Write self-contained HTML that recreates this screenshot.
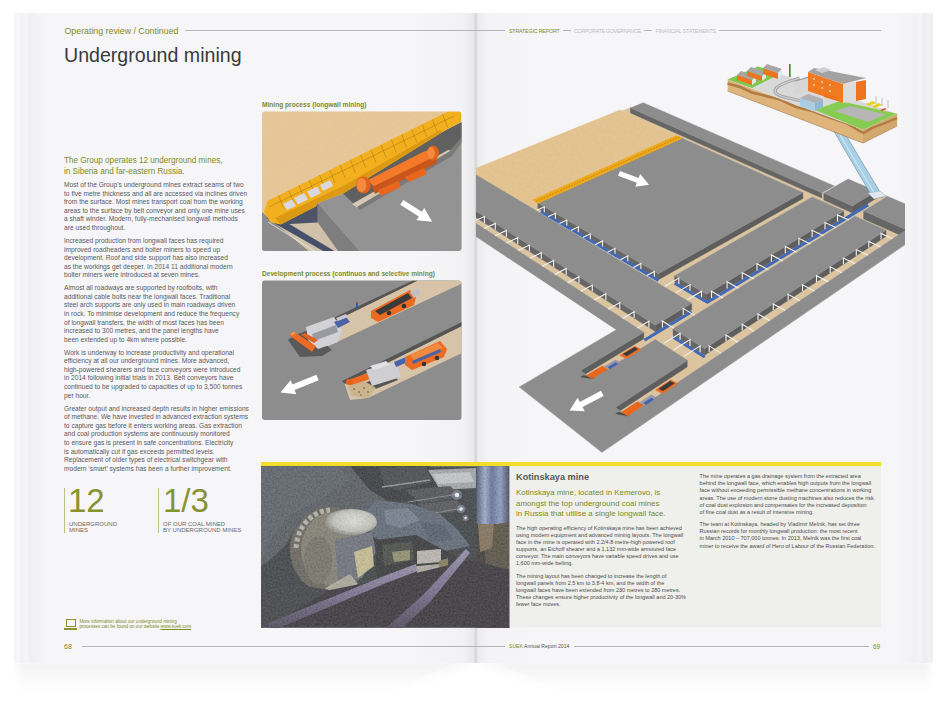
<!DOCTYPE html>
<html><head><meta charset="utf-8">
<style>
*{margin:0;padding:0;box-sizing:border-box}
html,body{width:950px;height:704px;overflow:hidden;background:#fff;font-family:"Liberation Sans",sans-serif}
.abs{position:absolute}
#stage{position:relative;width:950px;height:704px;background:#fff}
.pg{position:absolute;top:13px;height:650px;background:#f6f6f8}
#shadow{position:absolute;left:14px;top:663px;width:920px;height:30px;background:linear-gradient(180deg,rgba(0,0,0,0.045),rgba(0,0,0,0.015) 45%,rgba(0,0,0,0) 100%);-webkit-mask-image:linear-gradient(90deg,rgba(0,0,0,.6) 0,#000 10%,#000 85%,rgba(0,0,0,0.2) 100%)}
#shadowV{position:absolute;left:376px;top:663px;width:200px;height:34px;background:radial-gradient(ellipse 100px 32px at 50% 0,#fff 0,rgba(255,255,255,0.9) 40%,rgba(255,255,255,0) 100%)}
#stackL{left:14px;width:20px;top:13px;height:650px;background:linear-gradient(90deg,#f3f3f5 0,#f7f7f9 4px,#f1f1f3 8px,#f6f6f8 12px,#efeff1 17px,#f4f4f6 20px)}
#pageL{left:33px;width:443px;background:linear-gradient(90deg,#f1f1f3 0,#f6f6f8 12px,#f6f6f8 380px,#f2f2f4 430px,#e8e8ea 441px,#d0d0d2 443px)}
#pageR{left:476px;width:440px;background:linear-gradient(90deg,#d4d4d6 0,#ececee 2px,#f3f3f5 12px,#f6f6f8 60px,#f6f6f8 420px,#f2f2f4 100%)}
#stackR{left:915px;width:18px;top:13px;height:650px;background:linear-gradient(90deg,#efeff1 0,#f5f5f7 5px,#ededef 10px,#f3f3f5 14px,#efeff1 18px)}
.t{position:absolute;white-space:nowrap;line-height:1}
.olive{color:#7d8b24}
.body{position:absolute;white-space:nowrap;font-size:6.65px;line-height:8.6px;color:#5a5a5c}
.body p{margin-bottom:4.3px}
.k{font-size:5.5px;line-height:7.16px;color:#4c4c4e}.k p{margin-bottom:5.04px}
.k2{font-size:5.5px;line-height:7.32px;color:#4c4c4e}.k2 p{margin-bottom:4.0px}
.hline{position:absolute;height:1px;background:#b5b5b7}
</style></head><body><div id="stage">
<svg class="abs" style="left:0;top:0" width="950" height="704"><defs><linearGradient id="shg" x1="0" y1="0" x2="0" y2="1"><stop offset="0" stop-color="#000" stop-opacity="0.06"/><stop offset="0.4" stop-color="#000" stop-opacity="0.025"/><stop offset="1" stop-color="#000" stop-opacity="0"/></linearGradient><filter id="shb" x="-20%" y="-50%" width="140%" height="200%"><feGaussianBlur stdDeviation="3"/></filter></defs>
<g filter="url(#shb)"><rect x="18" y="662" width="912" height="32" fill="url(#shg)"/><polygon points="476,662 560,700 392,700" fill="#fff"/></g></svg>
<div id="stackL" class="abs"></div>
<div id="stackR" class="abs"></div>
<div id="pageL" class="pg"></div>
<div id="pageR" class="pg"></div>

<!-- left header -->
<div class="t olive" style="left:64.5px;top:26.5px;font-size:8.8px">Operating review / Continued</div>
<div class="hline" style="left:185px;top:30px;width:291px"></div>
<div class="t" style="left:64px;top:46.4px;font-size:19.6px;color:#3a3a3c">Underground mining</div>

<div class="t olive" style="left:64px;top:156.3px;font-size:8.15px;line-height:10.8px">The Group operates 12 underground mines,<br>in Siberia and far-eastern Russia.</div>

<div class="body" style="left:64px;top:181.1px">
<p>Most of the Group’s underground mines extract seams of two<br>to five metre thickness and all are accessed via inclines driven<br>from the surface. Most mines transport coal from the working<br>areas to the surface by belt conveyor and only one mine uses<br>a shaft winder. Modern, fully-mechanised longwall methods<br>are used throughout.</p>
<p>Increased production from longwall faces has required<br>improved roadheaders and bolter miners to speed up<br>development. Roof and side support has also increased<br>as the workings get deeper. In 2014 11 additional modern<br>bolter miners were introduced at seven mines.</p>
<p>Almost all roadways are supported by roofbolts, with<br>additional cable bolts near the longwall faces. Traditional<br>steel arch supports are only used in main roadways driven<br>in rock. To minimise development and reduce the frequency<br>of longwall transfers, the width of most faces has been<br>increased to 300 metres, and the panel lengths have<br>been extended up to 4km where possible.</p>
<p>Work is underway to increase productivity and operational<br>efficiency at all our underground mines. More advanced,<br>high-powered shearers and face conveyors were introduced<br>in 2014 following initial trials in 2013. Belt conveyors have<br>continued to be upgraded to capacities of up to 3,500 tonnes<br>per hour.</p>
<p>Greater output and increased depth results in higher emissions<br>of methane. We have invested in advanced extraction systems<br>to capture gas before it enters working areas. Gas extraction<br>and coal production systems are continuously monitored<br>to ensure gas is present in safe concentrations. Electricity<br>is automatically cut if gas exceeds permitted levels.<br>Replacement of older types of electrical switchgear with<br>modern ‘smart’ systems has been a further improvement.</p>
</div>

<!-- stats -->
<div class="abs" style="left:64px;top:488px;width:1px;height:45px;background:#b9bf86"></div>
<div class="t" style="left:68px;top:484.4px;font-size:33px;color:#879330">12</div>
<div class="t" style="left:69px;top:521px;font-size:6px;line-height:6.3px;color:#6a6a6c">UNDERGROUND<br>MINES</div>
<div class="abs" style="left:158px;top:488px;width:1px;height:45px;background:#b9bf86"></div>
<div class="t" style="left:163px;top:484.4px;font-size:33px;color:#879330">1/3</div>
<div class="t" style="left:163px;top:521px;font-size:6px;line-height:6.3px;color:#6a6a6c">OF OUR COAL MINED<br>BY UNDERGROUND MINES</div>

<!-- footer left -->
<div class="abs" style="left:66px;top:619px;width:10px;height:8px;border:1.2px solid #8a9530"></div>
<div class="abs" style="left:64px;top:628px;width:13px;height:1.5px;background:#8a9530"></div>
<div class="t olive" style="left:79.4px;top:618.5px;font-size:4.6px;line-height:5.4px">More information about our underground mining<br>processes can be found on our website <span style="text-decoration:underline;text-decoration-thickness:0.4px;text-underline-offset:0.6px">www.suek.com</span></div>
<div class="t olive" style="left:64px;top:643px;font-size:7px">68</div>
<div class="hline" style="left:82px;top:646px;width:394px"></div>

<!-- right header -->
<div class="hline" style="left:476px;top:30px;width:29px"></div>
<div class="t olive" style="left:509px;top:28.8px;font-size:5.3px;letter-spacing:-0.17px">STRATEGIC REPORT</div>
<div class="hline" style="left:562.5px;top:30px;width:8px"></div>
<div class="t" style="left:574px;top:28.8px;font-size:5.3px;letter-spacing:-0.28px;color:#bdbdbf">CORPORATE GOVERNANCE</div>
<div class="hline" style="left:644px;top:30px;width:8px"></div>
<div class="t" style="left:655.5px;top:28.8px;font-size:5.3px;letter-spacing:-0.17px;color:#bdbdbf">FINANCIAL STATEMENTS</div>
<div class="hline" style="left:719px;top:30px;width:162px"></div>

<!-- footer right -->
<div class="hline" style="left:476px;top:646px;width:29px"></div>
<div class="t" style="left:509px;top:644px;font-size:5.1px;color:#555"><span class="olive">SUEK</span> Annual Report 2014</div>
<div class="hline" style="left:574px;top:646px;width:295px"></div>
<div class="t olive" style="left:873px;top:643.5px;font-size:6.5px">69</div>

<!--PART:boxes-->
<svg class="abs" style="left:0;top:0" width="950" height="704" viewBox="0 0 950 704">
<defs>
<clipPath id="b1"><rect x="262" y="111.5" width="199.5" height="139.5" rx="3"/></clipPath>
<clipPath id="b2"><rect x="262" y="280.5" width="199.5" height="139.5" rx="3"/></clipPath>
</defs>
<!-- captions -->
<text x="262" y="106.6" font-family="Liberation Sans" font-weight="bold" font-size="6.6" fill="#7d8b2a">Mining process (longwall mining)</text>
<text x="262" y="276" font-family="Liberation Sans" font-weight="bold" font-size="6.6" fill="#7d8b2a">Development process (continuos and selective mining)</text>
<!-- BOX 1 -->
<g clip-path="url(#b1)">
<rect x="262" y="111" width="200" height="141" fill="#e6c597"/>
<defs><filter id="b1speck" x="0" y="0" width="1" height="1"><feTurbulence type="fractalNoise" baseFrequency="0.3" numOctaves="2" seed="7"/><feColorMatrix values="0 0 0 0 0.8  0 0 0 0 0.6  0 0 0 0 0.4  8 0 0 0 -4.3"/></filter></defs><rect x="262" y="111" width="200" height="141" filter="url(#b1speck)" opacity="0.45"/>
<!-- lower-left gray block -->
<polygon points="262,212 310,252 262,252" fill="#8c8c8c"/>
<!-- tunnel floor -->
<polygon points="264,214 281,224.6 317.8,222.5 338.8,252 310,252" fill="#d0c2aa"/>
<polygon points="272,222 286,222 336,252 325,252" fill="#46506a"/>
<line x1="268" y1="222" x2="316" y2="252" stroke="#e8e8e8" stroke-width="0.8"/>
<polygon points="266,218 315.6,206.5 317.8,203 317.8,222.5 281,224.6" fill="#4e5468"/>
<!-- gray block top face -->
<polygon points="317.8,203 343,193.5 440,133 462,122 462,252 360.6,252" fill="#939393"/>
<!-- block left front face -->
<polygon points="317.8,203 360.6,252 338.8,252 317.8,222.5" fill="#7e7e7e"/>
<!-- trench -->
<polygon points="343,193.5 440,133 462,122 462,137 450,151 357,207" fill="#606060"/>
<polygon points="352,204 448,150 455,151 358,208" fill="#d6c8b2"/>
<polygon points="357,207 450,151 462,137 462,142 452,156 360,210" fill="#7a7a7a"/>
<!-- yellow band -->
<polygon points="264,212 267.8,200.7 448,111.6 461,111.6 461,121.4 442.6,132.1 343,193.5 317.8,203 315.6,206.5 280.8,224.6 270.7,222.5" fill="#f2b01e"/>
<polygon points="275,218 343,186 440,130 442.6,132.1 343,193.5 317.8,203 315.6,206.5 280.8,224.6" fill="#dc9a14"/>
<g stroke="#a87a12" stroke-width="0.55">
<line x1="269" y1="207" x2="454" y2="116"/>
<line x1="278.6" y1="195.4" x2="283.6" y2="208.4"/><line x1="288.9" y1="190.3" x2="293.9" y2="203.3"/><line x1="299.1" y1="185.2" x2="304.1" y2="198.2"/><line x1="309.4" y1="180.2" x2="314.4" y2="193.2"/><line x1="319.6" y1="175.1" x2="324.6" y2="188.1"/><line x1="329.9" y1="170.0" x2="334.9" y2="183.0"/><line x1="340.1" y1="164.9" x2="345.1" y2="177.9"/><line x1="350.4" y1="159.9" x2="355.4" y2="172.9"/><line x1="360.6" y1="154.8" x2="365.6" y2="167.8"/><line x1="370.9" y1="149.7" x2="375.9" y2="162.7"/><line x1="381.1" y1="144.7" x2="386.1" y2="157.7"/><line x1="391.3" y1="139.6" x2="396.3" y2="152.6"/><line x1="401.6" y1="134.5" x2="406.6" y2="147.5"/><line x1="411.8" y1="129.5" x2="416.8" y2="142.5"/><line x1="422.1" y1="124.4" x2="427.1" y2="137.4"/><line x1="432.3" y1="119.3" x2="437.3" y2="132.3"/><line x1="442.6" y1="114.3" x2="447.6" y2="127.3"/>
</g>
<polygon points="283,204 292,199.5 296,206 287,210" fill="#d8d8e0"/><polygon points="294,198 304,193 308,199.5 298,204.5" fill="#d8d8e0"/><polygon points="307,191.5 317,186.5 321,193 311,198" fill="#d8d8e0"/><polygon points="320,185 330,180 333,186 323,191" fill="#d8d8e0"/>
<!-- shearer -->
<polygon points="368,180 421,153 433,148 438,156 376,189" fill="#f47a2a"/>
<polygon points="372,187 436,156 437,163 375,194" fill="#c8561a"/>
<polygon points="378,190 398,181 401,187 381,196" fill="#e8661e"/><polygon points="405,177 424,168 427,174 409,182" fill="#e8661e"/>
<ellipse cx="363.5" cy="185" rx="7.5" ry="8.5" fill="#e0621c"/><ellipse cx="361.5" cy="185" rx="4.8" ry="7" fill="#f38a40"/>
<ellipse cx="433" cy="153" rx="6" ry="7.5" fill="#e0621c"/><ellipse cx="431" cy="153" rx="3.8" ry="6" fill="#f38a40"/>
<!-- arrow -->
<polygon points="403.4,199.9 421.9,211.7 424.2,208.1 432.2,221.7 416.5,220.2 418.8,216.6 400.3,204.7" fill="#ffffff"/>
</g>
<!-- BOX 2 -->
<g clip-path="url(#b2)">
<rect x="262" y="280" width="200" height="141" fill="#8d8d8d"/>
<!-- tunnel 1 -->
<polygon points="291,340 412.5,280.5 462,280.5 462,283.5 320,350 308,354" fill="#d6c3a8"/>
<polygon points="289,339 412.5,280.5 418,280.5 292,342" fill="#555"/>
<!-- tunnel 2 -->
<polygon points="344,382 462,323 462,353 368,398 350,400" fill="#d6c3a8"/>
<polygon points="342,381 462,322 462,326 345,384" fill="#555"/>
<!-- machine 1 (left) -->
<polygon points="288,340 300,333 324,343 332,350 322,356 300,357" fill="#5a5a5a"/>
<polygon points="306,327 334,317 342,330 338,342 318,349 308,340" fill="#d2d2d6"/>
<polygon points="312,334 336,325 338,332 314,341" fill="#9a9aa2"/>
<polygon points="334,322 346,317 350,322 338,328" fill="#4a62a8"/><polygon points="336,318 346,314 348,317 338,321" fill="#c8c8d0"/>
<polygon points="289,335 294,332 316,346 312,352" fill="#ec6a22"/>
<polygon points="301,335 305,333 318,340 314,343" fill="#e06020"/>
<polygon points="290,334 294,331.5 296,333 292,336" fill="#f59050"/>
<rect x="356" y="303" width="1.8" height="6" fill="#2a5aa8"/><circle cx="357" cy="302.5" r="1" fill="#c05030"/>
<!-- truck 1 -->
<polygon points="371,311 410,290 416,297 414,305 378,322 371,318" fill="#ec6a22"/>
<polygon points="375,311 408,293 412,298 380,315" fill="#3a3a3a"/>
<polygon points="410,292 418,288 421,294 414,298" fill="#c0c0c4"/>
<circle cx="389" cy="313" r="2.3" fill="#333"/><circle cx="404" cy="306" r="2.3" fill="#333"/>
<!-- machine 2 -->
<polygon points="362,384 392,372 398,380 368,392" fill="#555"/>
<polygon points="348,380 388,366 390,372 350,386" fill="#ec6a22"/>
<ellipse cx="349" cy="382" rx="3.2" ry="3" fill="#e8601e"/>
<polygon points="366,370 396,361 401,377 372,386" fill="#cfcfd3"/>
<polygon points="370,366 386,361 390,365 374,370" fill="#e0e0e4"/>
<polygon points="394,362 406,357 408,362 396,367" fill="#4a62a8"/>
<polygon points="348,386 364,381 376,388 368,398 352,396" fill="#c9b48e"/>
<g fill="#5a5040"><circle cx="354" cy="389" r="0.8"/><circle cx="359" cy="392" r="0.8"/><circle cx="364" cy="388" r="0.8"/><circle cx="361" cy="395" r="0.7"/><circle cx="368" cy="392" r="0.8"/></g>
<!-- truck 2 -->
<polygon points="405,357 440,341 447,349 444,357 412,370 405,365" fill="#ec6a22"/>
<polygon points="410,355 438,343 443,348 414,360" fill="#f08a40"/>
<polygon points="412,361 440,349 441,352 413,364" fill="#4a62a8"/>
<circle cx="424" cy="364" r="2.2" fill="#333"/><circle cx="437" cy="358" r="2.2" fill="#333"/>
<!-- arrow -->
<polygon points="318.7,380.3 294.6,390.1 296.3,394.3 280.5,392.5 290.6,380.2 292.3,384.4 316.4,374.7" fill="#ffffff"/>
</g>
<!-- PHOTO -->
<rect x="261" y="462" width="620" height="4.3" fill="#f0de2a"/>
<defs>
<clipPath id="ph"><rect x="261" y="466.3" width="248.5" height="161.2"/></clipPath>
<radialGradient id="drumtop" cx="0.55" cy="0.45" r="0.55"><stop offset="0" stop-color="#e2e2dc"/><stop offset="0.7" stop-color="#c4c4bc"/><stop offset="1" stop-color="#8a8a84"/></radialGradient>
<linearGradient id="coalg" x1="0" y1="0" x2="0.3" y2="1"><stop offset="0" stop-color="#4a5158"/><stop offset="0.55" stop-color="#41474e"/><stop offset="1" stop-color="#2a2c30"/></linearGradient>
<linearGradient id="rstrip" x1="0" y1="0" x2="1" y2="0"><stop offset="0" stop-color="#46506e"/><stop offset="0.25" stop-color="#98a8cc"/><stop offset="0.45" stop-color="#5a6890"/><stop offset="0.7" stop-color="#8898c0"/><stop offset="1" stop-color="#2e3448"/></linearGradient>
<linearGradient id="railg" x1="0" y1="0" x2="0" y2="1"><stop offset="0" stop-color="#9088a8"/><stop offset="0.5" stop-color="#6c6484"/><stop offset="1" stop-color="#3e3848"/></linearGradient>
<filter id="noise" x="0" y="0" width="1" height="1" filterUnits="objectBoundingBox"><feTurbulence type="fractalNoise" baseFrequency="0.55" numOctaves="2" seed="5" result="t"/><feColorMatrix in="t" type="matrix" values="1 0 0 0 0  1 0 0 0 0  1 0 0 0 0  0 0 0 0 1"/></filter>
</defs>
<g clip-path="url(#ph)">
<rect x="261" y="466" width="249" height="162" fill="#33363a"/>
<!-- coal face upper-left -->
<polygon points="261,466 355,466 370,490 386,500 380,520 330,510 300,520 286,545 270,560 261,566" fill="#4d5359"/>
<polygon points="261,466 340,466 350,480 320,500 290,515 270,540 261,560" fill="#535960"/>
<!-- dark upper middle -->
<polygon points="350,466 430,466 440,490 410,500 386,500 368,488" fill="#2c2e32"/>
<!-- roof canopy -->
<polygon points="380,468 426,466 432,482 398,490 384,486" fill="#3c3e42"/>
<polyline points="382,487 430,480" stroke="#8c8e92" stroke-width="1.4" fill="none"/>
<polygon points="428,470 476,468 476,488 440,490" fill="#9ea2a6"/>
<polygon points="432,474 470,472 474,482 438,484" fill="#c4c6ca"/>
<polygon points="405,490 450,486 462,497 420,503" fill="#45474b"/><polyline points="408,502 458,494" stroke="#7e8084" stroke-width="1" fill="none"/>
<polygon points="418,504 456,500 468,510 430,515" fill="#4a4c50"/><polyline points="422,515 464,508" stroke="#7e8084" stroke-width="1" fill="none"/>
<circle cx="457" cy="495" r="5" fill="#9aa6b8" opacity="0.5"/><circle cx="457" cy="495" r="2.2" fill="#f4f8ff"/>
<circle cx="461" cy="509" r="4" fill="#9aa6b8" opacity="0.5"/><circle cx="461" cy="509" r="1.8" fill="#f0f4ff"/>
<circle cx="465.5" cy="518" r="3" fill="#9aa6b8" opacity="0.5"/><circle cx="465.5" cy="518" r="1.3" fill="#e8eef8"/>
<!-- blue coal lumps -->
<polygon points="376,500 412,504 440,514 458,530 470,546 440,552 400,550 372,536 364,515" fill="#566070"/>
<polygon points="384,510 408,508 420,520 400,528 386,524" fill="#6e7888"/>
<polygon points="420,522 445,525 452,540 430,542" fill="#4a5464"/>
<!-- right metallic strip -->
<rect x="476.5" y="466" width="34" height="58" fill="url(#rstrip)"/>
<rect x="476.5" y="524" width="34" height="104" fill="#34302c"/>
<polygon points="484,526 510,522 510,628 488,628" fill="#4e4638"/>
<polygon points="478,524 494,524 492,548 480,552" fill="#7a6a50"/>
<!-- drum -->
<ellipse cx="330" cy="550" rx="40" ry="43" fill="#5e5c52"/>
<ellipse cx="334" cy="549" rx="33" ry="37" fill="#7c786a"/>
<path d="M296,548 A36,40 0 0 1 330,510" fill="none" stroke="#b0b0aa" stroke-width="5" stroke-dasharray="4 2.5"/>
<ellipse cx="351" cy="522" rx="26" ry="13" fill="url(#drumtop)"/>
<ellipse cx="318" cy="560" rx="14" ry="24" fill="#6e6c60"/>
<polygon points="335,540 372,532 376,552 362,578 338,582" fill="#666a74"/>
<polygon points="354,552 372,546 374,566 358,578" fill="#c4bc8c"/>
<polygon points="325,588 350,574 358,584 334,598" fill="#a8a498"/>
<!-- machine center -->
<polygon points="375,540 416,535 440,548 456,556 452,600 400,612 378,594" fill="#2a2b2e"/>
<polygon points="382,545 412,541 414,560 384,566" fill="#3e403c"/>
<polygon points="392,552 410,550 410,560 394,562" fill="#8a8868"/>
<polygon points="417,551 441,549 441,562 417,564" fill="#b8b4ac"/>
<polygon points="417,566 440,564 440,574.5 417,576" fill="#aca89e"/>
<polygon points="439,561 448,558 450,612 441,616" fill="#7e7650"/>
<polygon points="449,565 456,562 457,606 450,610" fill="#5e5840"/>
<!-- lower dark -->
<polygon points="261,606 330,590 380,580 420,572 470,560 510,570 510,628 261,628" fill="#2c2830"/>
<polygon points="261,590 300,585 330,590 268,626 261,628" fill="#34373b"/>
<!-- rails -->
<polygon points="266,624 384,576 416,564 418,571 386,583 272,631" fill="url(#railg)"/>
<polygon points="386,628 424,594 466,549 470,553 430,602 396,634" fill="url(#railg)"/>
<rect x="261" y="466" width="249" height="162" filter="url(#noise)" opacity="0.22"/>
</g>
<!-- Kotinskaya box -->
<rect x="509.5" y="466.3" width="371.5" height="161.2" fill="#efefeb"/>
</svg>

<!--/PART:boxes-->
<!--PART:map-->
<svg class="abs" style="left:0;top:0" width="950" height="704" viewBox="0 0 950 704"><defs><clipPath id="mapclip"><path d="M476 40H905V470H476Z"/></clipPath></defs><g clip-path="url(#mapclip)">
<polygon points="630.8,107.3 929.0,239.9 920.5,245.8 622.0,110.9" fill="#dbc49f" stroke="#dbc49f" stroke-width="0.4" />
<polygon points="802.9,192.6 812.3,196.9 659.7,284.2 650.1,278.5" fill="#dbc49f" stroke="#dbc49f" stroke-width="0.4" />
<polygon points="544.3,200.1 718.1,300.9 703.2,310.1 529.6,206.7" fill="#dbc49f" stroke="#dbc49f" stroke-width="0.4" />
<polygon points="876.3,191.4 887.5,196.1 592.2,378.8 580.7,370.5" fill="#dbc49f" stroke="#dbc49f" stroke-width="0.4" />
<polygon points="422.3,171.1 716.8,356.4 699.2,368.2 405.7,177.6" fill="#dbc49f" stroke="#dbc49f" stroke-width="0.4" />
<polygon points="894.5,224.6 906.1,229.7 627.5,416.1 615.6,407.3" fill="#dbc49f" stroke="#dbc49f" stroke-width="0.4" />
<polygon points="630.4,107.9 821.8,193.1 821.8,198.1 630.4,112.9" fill="#666666" stroke="#666666" stroke-width="0.4" />
<polygon points="643.2,102.7 834.4,185.9 821.8,193.1 630.4,107.9" fill="#8d8d8d" stroke="#8d8d8d" stroke-width="0.4" />
<polygon points="823.8,193.1 852.4,205.9 852.4,212.9 823.8,200.1" fill="#666666" stroke="#666666" stroke-width="0.4" />
<polygon points="876.6,191.2 852.4,205.9 852.4,212.9 876.6,198.2" fill="#5e5e5e" stroke="#5e5e5e" stroke-width="0.4" />
<polygon points="848.1,179.1 876.6,191.2 852.4,205.9 823.8,193.1" fill="#8d8d8d" stroke="#8d8d8d" stroke-width="0.4" />
<polygon points="863.7,210.9 945.2,247.1 945.2,255.1 863.7,218.9" fill="#666666" stroke="#666666" stroke-width="0.4" />
<polygon points="887.3,196.3 968.1,230.7 945.2,247.1 863.7,210.9" fill="#8d8d8d" stroke="#8d8d8d" stroke-width="0.4" />
<polygon points="620.0,110.0 681.8,137.9 529.6,206.7 469.5,170.9" fill="#e2c38f" stroke="#e2c38f" stroke-width="0.4" />
<defs><filter id="sandspeck" x="0" y="0" width="1" height="1"><feTurbulence type="fractalNoise" baseFrequency="0.35" numOctaves="2" seed="11"/><feColorMatrix values="0 0 0 0 0.78  0 0 0 0 0.58  0 0 0 0 0.36  8 0 0 0 -4.3"/></filter><clipPath id="sandclip"><polygon points="620.0,110.0 681.8,137.9 529.6,206.7 469.5,170.9"/></clipPath></defs>
<rect x="470" y="100" width="220" height="110" filter="url(#sandspeck)" clip-path="url(#sandclip)" opacity="0.5"/>
<polygon points="802.9,192.6 658.4,273.8 658.4,279.8 802.9,198.6" fill="#5e5e5e" stroke="#5e5e5e" stroke-width="0.4" />
<polygon points="537.8,203.0 658.4,273.8 658.4,279.2 537.8,208.4" fill="#666666" stroke="#666666" stroke-width="0.4" />
<polygon points="681.8,137.9 802.9,192.6 658.4,273.8 537.8,203.0" fill="#8d8d8d" stroke="#8d8d8d" stroke-width="0.4" />
<polygon points="843.8,211.1 706.6,294.2 706.6,300.9 843.8,217.8" fill="#5e5e5e" stroke="#5e5e5e" stroke-width="0.4" />
<polygon points="674.6,275.7 706.6,294.2 706.6,300.2 674.6,281.7" fill="#666666" stroke="#666666" stroke-width="0.4" />
<polygon points="812.3,196.9 843.8,211.1 706.6,294.2 674.6,275.7" fill="#8d8d8d" stroke="#8d8d8d" stroke-width="0.4" />
<polygon points="691.7,303.3 655.4,325.2 655.4,331.7 691.7,309.8" fill="#5e5e5e" stroke="#5e5e5e" stroke-width="0.4" />
<polygon points="416.6,173.4 655.4,325.2 655.4,331.6 416.6,179.8" fill="#666666" stroke="#666666" stroke-width="0.4" />
<polygon points="451.0,159.9 691.7,303.3 655.4,325.2 416.6,173.4" fill="#8d8d8d" stroke="#8d8d8d" stroke-width="0.4" />
<polygon points="886.0,230.2 704.8,348.8 704.8,355.0 886.0,236.4" fill="#5e5e5e" stroke="#5e5e5e" stroke-width="0.4" />
<polygon points="673.0,328.8 704.8,348.8 704.8,355.2 673.0,335.2" fill="#666666" stroke="#666666" stroke-width="0.4" />
<polygon points="855.1,216.2 886.0,230.2 704.8,348.8 673.0,328.8" fill="#8d8d8d" stroke="#8d8d8d" stroke-width="0.4" />
<polygon points="643.8,332.3 580.7,370.5 580.7,377.0 643.8,338.8" fill="#5e5e5e" stroke="#5e5e5e" stroke-width="0.4" />
<polygon points="687.2,360.4 615.6,407.3 615.6,413.8 687.2,366.9" fill="#5e5e5e" stroke="#5e5e5e" stroke-width="0.4" />
<polygon points="405.7,177.6 643.8,332.3 580.7,370.5 592.2,378.8 655.3,339.7 687.2,360.4 615.6,407.3 627.5,416.1 906.1,229.7 918.6,235.3 601.9,452.3 519.3,386.9 616.3,329.7 394.1,182.2" fill="#8d8d8d" stroke="#8d8d8d" stroke-width="0.4" />
<polygon points="655.3,339.7 687.2,360.4 623.8,401.9 592.2,378.8" fill="#8d8d8d" stroke="#8d8d8d" stroke-width="0.4" />
<polyline points="918.6,235.3 601.9,452.3 519.3,386.9" fill="none" stroke="#a0a0a0" stroke-width="0.7" />
<polyline points="541.0,211.5 658.4,280.4" fill="none" stroke="#4169b8" stroke-width="3.0" stroke-linecap="butt"/>
<polyline points="674.6,283.3 707.3,302.2" fill="none" stroke="#4169b8" stroke-width="3.0" stroke-linecap="butt"/>
<polyline points="868.1,204.9 706.6,302.7" fill="none" stroke="#4169b8" stroke-width="3.0" stroke-linecap="butt"/>
<polyline points="691.7,311.6 644.4,340.2" fill="none" stroke="#4169b8" stroke-width="3.0" stroke-linecap="butt"/>
<polyline points="673.0,337.0 704.8,357.0" fill="none" stroke="#4169b8" stroke-width="3.0" stroke-linecap="butt"/>
<polyline points="544.3,212.2 544.3,206.8 536.9,210.2" fill="none" stroke="#f2f2f2" stroke-width="1.1" />
<polyline points="555.4,218.7 555.4,213.3 548.0,216.8" fill="none" stroke="#f2f2f2" stroke-width="1.1" />
<polyline points="566.8,225.4 566.8,220.0 559.4,223.5" fill="none" stroke="#f2f2f2" stroke-width="1.1" />
<polyline points="578.4,232.2 578.4,226.8 571.0,230.5" fill="none" stroke="#f2f2f2" stroke-width="1.1" />
<polyline points="590.3,239.2 590.3,233.8 582.9,237.5" fill="none" stroke="#f2f2f2" stroke-width="1.1" />
<polyline points="602.5,246.4 602.5,241.0 595.1,244.8" fill="none" stroke="#f2f2f2" stroke-width="1.1" />
<polyline points="615.0,253.7 615.0,248.3 607.5,252.2" fill="none" stroke="#f2f2f2" stroke-width="1.1" />
<polyline points="627.8,261.2 627.8,255.8 620.3,259.8" fill="none" stroke="#f2f2f2" stroke-width="1.1" />
<polyline points="640.9,268.9 640.9,263.5 633.4,267.6" fill="none" stroke="#f2f2f2" stroke-width="1.1" />
<polyline points="654.4,276.8 654.4,271.4 646.9,275.6" fill="none" stroke="#f2f2f2" stroke-width="1.1" />
<polyline points="837.5,221.6 837.5,214.9 848.8,220.1" fill="none" stroke="#f2f2f2" stroke-width="1.1" />
<polyline points="825.0,229.2 825.0,222.5 836.3,227.8" fill="none" stroke="#f2f2f2" stroke-width="1.1" />
<polyline points="812.1,237.0 812.1,230.3 823.5,235.8" fill="none" stroke="#f2f2f2" stroke-width="1.1" />
<polyline points="798.9,245.0 798.9,238.3 810.3,243.9" fill="none" stroke="#f2f2f2" stroke-width="1.1" />
<polyline points="785.3,253.2 785.3,246.5 796.7,252.3" fill="none" stroke="#f2f2f2" stroke-width="1.1" />
<polyline points="771.4,261.7 771.4,255.0 782.8,260.9" fill="none" stroke="#f2f2f2" stroke-width="1.1" />
<polyline points="757.0,270.4 757.0,263.7 768.5,269.7" fill="none" stroke="#f2f2f2" stroke-width="1.1" />
<polyline points="742.3,279.3 742.3,272.6 753.8,278.9" fill="none" stroke="#f2f2f2" stroke-width="1.1" />
<polyline points="727.1,288.5 727.1,281.8 738.6,288.2" fill="none" stroke="#f2f2f2" stroke-width="1.1" />
<polyline points="711.5,298.0 711.5,291.3 723.0,297.9" fill="none" stroke="#f2f2f2" stroke-width="1.1" />
<polyline points="683.2,314.9 683.2,308.4 694.7,315.4" fill="none" stroke="#f2f2f2" stroke-width="1.1" />
<polyline points="662.4,327.5 662.4,321.0 673.9,328.3" fill="none" stroke="#f2f2f2" stroke-width="1.1" />
<polyline points="463.5,209.6 463.5,203.2 452.4,207.9" fill="none" stroke="#f2f2f2" stroke-width="1.1" />
<polyline points="473.8,216.2 473.8,209.8 462.7,214.6" fill="none" stroke="#f2f2f2" stroke-width="1.1" />
<polyline points="484.4,222.9 484.4,216.5 473.2,221.5" fill="none" stroke="#f2f2f2" stroke-width="1.1" />
<polyline points="495.3,229.8 495.3,223.4 484.0,228.5" fill="none" stroke="#f2f2f2" stroke-width="1.1" />
<polyline points="506.4,236.8 506.4,230.4 495.1,235.7" fill="none" stroke="#f2f2f2" stroke-width="1.1" />
<polyline points="517.7,244.1 517.7,237.7 506.4,243.0" fill="none" stroke="#f2f2f2" stroke-width="1.1" />
<polyline points="529.4,251.5 529.4,245.1 518.0,250.6" fill="none" stroke="#f2f2f2" stroke-width="1.1" />
<polyline points="541.3,259.1 541.3,252.7 530.0,258.3" fill="none" stroke="#f2f2f2" stroke-width="1.1" />
<polyline points="553.6,266.9 553.6,260.5 542.2,266.2" fill="none" stroke="#f2f2f2" stroke-width="1.1" />
<polyline points="566.2,274.9 566.2,268.5 554.7,274.4" fill="none" stroke="#f2f2f2" stroke-width="1.1" />
<polyline points="579.0,283.1 579.0,276.7 567.6,282.7" fill="none" stroke="#f2f2f2" stroke-width="1.1" />
<polyline points="592.3,291.5 592.3,285.1 580.8,291.3" fill="none" stroke="#f2f2f2" stroke-width="1.1" />
<polyline points="605.9,300.1 605.9,293.7 594.3,300.1" fill="none" stroke="#f2f2f2" stroke-width="1.1" />
<polyline points="619.8,309.0 619.8,302.6 608.2,309.2" fill="none" stroke="#f2f2f2" stroke-width="1.1" />
<polyline points="634.1,318.1 634.1,311.7 622.6,318.4" fill="none" stroke="#f2f2f2" stroke-width="1.1" />
<polyline points="648.9,327.5 648.9,321.1 637.3,328.0" fill="none" stroke="#f2f2f2" stroke-width="1.1" />
<polyline points="881.0,239.6 881.0,233.4 892.6,238.7" fill="none" stroke="#f2f2f2" stroke-width="1.1" />
<polyline points="868.8,247.6 868.8,241.4 880.5,246.9" fill="none" stroke="#f2f2f2" stroke-width="1.1" />
<polyline points="856.3,255.8 856.3,249.6 868.0,255.2" fill="none" stroke="#f2f2f2" stroke-width="1.1" />
<polyline points="843.4,264.3 843.4,258.1 855.1,263.8" fill="none" stroke="#f2f2f2" stroke-width="1.1" />
<polyline points="830.2,273.0 830.2,266.8 841.9,272.7" fill="none" stroke="#f2f2f2" stroke-width="1.1" />
<polyline points="816.5,281.9 816.5,275.7 828.3,281.7" fill="none" stroke="#f2f2f2" stroke-width="1.1" />
<polyline points="802.5,291.0 802.5,284.8 814.4,291.1" fill="none" stroke="#f2f2f2" stroke-width="1.1" />
<polyline points="788.1,300.5 788.1,294.3 800.0,300.7" fill="none" stroke="#f2f2f2" stroke-width="1.1" />
<polyline points="773.3,310.2 773.3,304.0 785.2,310.6" fill="none" stroke="#f2f2f2" stroke-width="1.1" />
<polyline points="758.0,320.2 758.0,314.0 769.9,320.8" fill="none" stroke="#f2f2f2" stroke-width="1.1" />
<polyline points="742.2,330.5 742.2,324.3 754.2,331.4" fill="none" stroke="#f2f2f2" stroke-width="1.1" />
<polyline points="726.0,341.2 726.0,335.0 738.0,342.2" fill="none" stroke="#f2f2f2" stroke-width="1.1" />
<polyline points="709.2,352.1 709.2,345.9 721.2,353.4" fill="none" stroke="#f2f2f2" stroke-width="1.1" />
<polyline points="680.1,339.7 680.1,333.3 663.9,343.4" fill="none" stroke="#f2f2f2" stroke-width="1.1" />
<polyline points="690.0,345.9 690.0,339.5 673.8,349.8" fill="none" stroke="#f2f2f2" stroke-width="1.1" />
<polyline points="700.1,352.3 700.1,345.9 683.9,356.4" fill="none" stroke="#f2f2f2" stroke-width="1.1" />
<polyline points="678.8,284.1 678.8,278.1 664.7,286.2" fill="none" stroke="#f2f2f2" stroke-width="1.1" />
<polyline points="690.0,290.6 690.0,284.6 675.9,292.9" fill="none" stroke="#f2f2f2" stroke-width="1.1" />
<polyline points="701.5,297.3 701.5,291.3 687.4,299.7" fill="none" stroke="#f2f2f2" stroke-width="1.1" />
<polygon points="676.4,135.5 682.4,138.2 538.3,203.3 532.5,199.9" fill="#eea818" stroke="#eea818" stroke-width="0.4" />
<polyline points="679.4,136.9 535.5,201.6" fill="none" stroke="#a06810" stroke-width="0.6" stroke-dasharray="1.5 1.5"/>
<polygon points="583.1,375.5 580.7,377.0 592.2,378.8 594.6,377.3" fill="#4a4a4a" stroke="#4a4a4a" stroke-width="0.3" />
<polygon points="602.2,365.9 586.2,375.6 592.1,378.8 608.1,369.0" fill="#e8661e" stroke="#e8661e" stroke-width="0.3" />
<polygon points="615.3,359.8 603.6,366.9 608.1,369.0 619.8,361.8" fill="#9a9aa8" stroke="#9a9aa8" stroke-width="0.3" />
<polygon points="615.6,362.5 607.8,367.2 610.0,368.8 617.8,364.0" fill="#3f62b0" stroke="#3f62b0" stroke-width="0.3" />
<polygon points="634.8,346.1 619.6,355.3 626.3,358.8 641.4,349.5" fill="#ec6c22" stroke="#ec6c22" stroke-width="0.3" />
<polygon points="634.4,347.2 623.0,354.1 626.7,356.1 638.0,349.1" fill="#3a3a3a" stroke="#3a3a3a" stroke-width="0.3" />
<polygon points="618.1,412.2 615.6,413.8 627.5,416.1 630.0,414.5" fill="#4a4a4a" stroke="#4a4a4a" stroke-width="0.3" />
<polygon points="637.6,401.5 621.3,412.2 627.7,415.9 643.9,405.1" fill="#e8661e" stroke="#e8661e" stroke-width="0.3" />
<polygon points="651.1,394.8 639.2,402.7 643.9,405.1 655.9,397.2" fill="#9a9aa8" stroke="#9a9aa8" stroke-width="0.3" />
<polygon points="651.5,397.8 643.5,403.0 645.9,404.8 653.9,399.5" fill="#3f62b0" stroke="#3f62b0" stroke-width="0.3" />
<polygon points="670.7,379.8 655.3,389.9 662.5,393.8 677.9,383.6" fill="#ec6c22" stroke="#ec6c22" stroke-width="0.3" />
<polygon points="670.4,381.1 658.9,388.7 662.9,390.9 674.4,383.3" fill="#3a3a3a" stroke="#3a3a3a" stroke-width="0.3" />
<polygon points="620.0,170.9 638.6,178.0 640.2,174.1 649.0,184.7 635.3,186.8 636.8,182.8 618.1,175.7" fill="#fff"/>
<polygon points="603.7,395.9 582.5,407.1 584.7,411.3 569.6,410.6 577.6,397.8 579.8,402.0 601.0,390.8" fill="#fff"/>
</g></svg>
<!--/PART:map-->
<!--PART:surface-->
<svg class="abs" style="left:0;top:0" width="950" height="704" viewBox="0 0 950 704">
<!-- shaft -->
<polygon points="832,128 841,127 883,197 873,198" fill="#a9cfe4" stroke="#6f98b4" stroke-width="0.7"/>
<line x1="836" y1="128" x2="877" y2="198" stroke="#d6ecf6" stroke-width="1"/>
<polygon points="868,193 880,191 886,196 874,199" fill="#dfe8ee" stroke="#9ab" stroke-width="0.5"/>
<!-- platform sides -->
<polygon points="727.6,79.6 863,129.8 863,143.1 727.6,91" fill="#deb47a"/>
<polygon points="863,129.8 897.1,113.7 897.1,126 863,143.1" fill="#d3a86c"/>
<polyline points="727.6,83.5 740,87 752,92.5 766,96 780,99.5 796,107 812,111 828,117 846,123 863,133" fill="none" stroke="#b07c44" stroke-width="2.6"/>
<polyline points="863,133.5 872,128 884,123.5 897.1,118" fill="none" stroke="#b07c44" stroke-width="2.4"/>
<polyline points="727.6,91 863,143.1 897.1,126" fill="none" stroke="#9c7a50" stroke-width="0.6"/>
<!-- top face -->
<polygon points="727.6,79.6 758,66.4 897.1,113.7 863,129.8" fill="#d9d9d9"/>
<polygon points="727.6,79.6 758,66.4 780,74 752,88" fill="#7fc84e"/>
<polygon points="815,110 840,101 897.1,113.7 863,129.8" fill="#86cc52"/>
<polygon points="835,111 850,106 886,114.5 868,122" fill="#b6b6b6"/>
<!-- road -->
<path d="M799.6,78.1 C790,81 779,84 776,88.5 C773,93 778,95.5 784,97 L801.5,101" fill="none" stroke="#a4a4a4" stroke-width="3.2"/><path d="M799.6,78.1 C790,81 779,84 776,88.5 C773,93 778,95.5 784,97 L801.5,101" fill="none" stroke="#d4d4d4" stroke-width="1.2"/>
<!-- houses -->
<g>
<polygon points="737,75 752,80 752,85 737,80" fill="#ee7420"/><polygon points="737,75 741,71 756,76 752,80" fill="#a6a6a6"/><polygon points="752,80 756,76 756,82 752,85" fill="#e6e6e6"/>
<polygon points="747,71 762,76 762,81 747,76" fill="#ee7420"/><polygon points="747,71 751,67 766,72 762,76" fill="#a6a6a6"/><polygon points="762,76 766,72 766,78 762,81" fill="#e6e6e6"/>
<polygon points="763,68 778,73 778,79 763,74" fill="#ee7420"/><polygon points="763,68 767,64 782,69 778,73" fill="#a6a6a6"/><polygon points="778,73 782,69 782,75 778,79" fill="#e6e6e6"/>
<rect x="789" y="64" width="1.6" height="13" fill="#3d8a2c"/>
</g>
<!-- small gray building -->
<polygon points="794,82 808,78 808,91 794,95" fill="#d6d6d6"/><polygon points="794,82 797,80 810,76 808,78" fill="#9a9a9a"/>
<!-- main building -->
<polygon points="808,72 843,84 843,103 808,91" fill="#f07a22"/>
<polygon points="843,84 866,80 866,99 843,103" fill="#dcdcdc"/>
<polygon points="856,82 866,80 866,99 856,101" fill="#ee7420"/>
<polygon points="808,72 814,68 866,78 843,84" fill="#a2a2a2"/>
<polygon points="815,70 824,67 831,70 822,73" fill="#cfcfcf"/>
<g fill="#ffffff"><circle cx="814" cy="79" r="0.8"/><circle cx="822" cy="82" r="0.8"/><circle cx="830" cy="85" r="0.8"/><circle cx="814" cy="85" r="0.8"/><circle cx="822" cy="88" r="0.8"/><circle cx="830" cy="91" r="0.8"/></g>
<polygon points="824,93 838,97 838,101 824,97" fill="#ee7420"/>
<!-- shaft head light blue building -->
<polygon points="800,98 815,103 815,111 800,106" fill="#a9cde2"/><polygon points="815,103 823,99 823,107 815,111" fill="#8fb8d2"/><polygon points="800,98 808,94 823,99 815,103" fill="#b0b0b0"/>
<!-- cars & lamps -->
<polygon points="866,104 873,101 876,103 869,106" fill="#e8d020"/><polygon points="872,106 879,103 882,105 875,108" fill="#e8d020"/><polygon points="880,110 885,108 887,109 882,111" fill="#e05030"/>
<g stroke="#888" stroke-width="0.5"><line x1="876" y1="96" x2="876" y2="104"/><line x1="882" y1="98" x2="882" y2="106"/><line x1="888" y1="100" x2="888" y2="108"/></g>
</svg>

<!--/PART:surface-->
<!-- kotinskaya text -->
<div class="t" style="left:516px;top:473px;font-size:9.2px;font-weight:bold;color:#58585a">Kotinskaya mine</div>
<div class="t olive" style="left:516px;top:488px;font-size:7.9px;line-height:10.55px">Kotinskaya mine, located in Kemerovo, is<br>amongst the top underground coal mines<br>in Russia that utilise a single longwall face.</div>
<div class="body k" style="left:516px;top:524.7px">
<p>The high operating efficiency of Kotinskaya mine has been achieved<br>using modern equipment and advanced mining layouts. The longwall<br>face in the mine is operated with 2.2/4.8 metre-high powered roof<br>supports, an Eichoff shearer and a 1,132 mm-wide armoured face<br>conveyor. The main conveyors have variable speed drives and use<br>1,600 mm-wide belting.</p>
<p>The mining layout has been changed to increase the length of<br>longwall panels from 2.5 km to 3.8-4 km, and the width of the<br>longwall faces have been extended from 230 metres to 280 metres.<br>These changes ensure higher productivity of the longwall and 20-30%<br>fewer face moves.</p>
</div>
<div class="body k2" style="left:699.6px;top:472.8px">
<p>The mine operates a gas drainage system from the extracted area<br>behind the longwall face, which enables high outputs from the longwall<br>face without exceeding permissible methane concentrations in working<br>areas. The use of modern stone dusting machines also reduces the risk<br>of coal dust explosion and compensates for the increased deposition<br>of fine coal dust as a result of intensive mining.</p>
<p>The team at Kotinskaya, headed by Vladimir Melnik, has set three<br>Russian records for monthly longwall production: the most recent<br>in March 2010 – 707,000 tonnes. In 2013, Melnik was the first coal<br>miner to receive the award of Hero of Labour of the Russian Federation.</p>
</div>
</div></body></html>
